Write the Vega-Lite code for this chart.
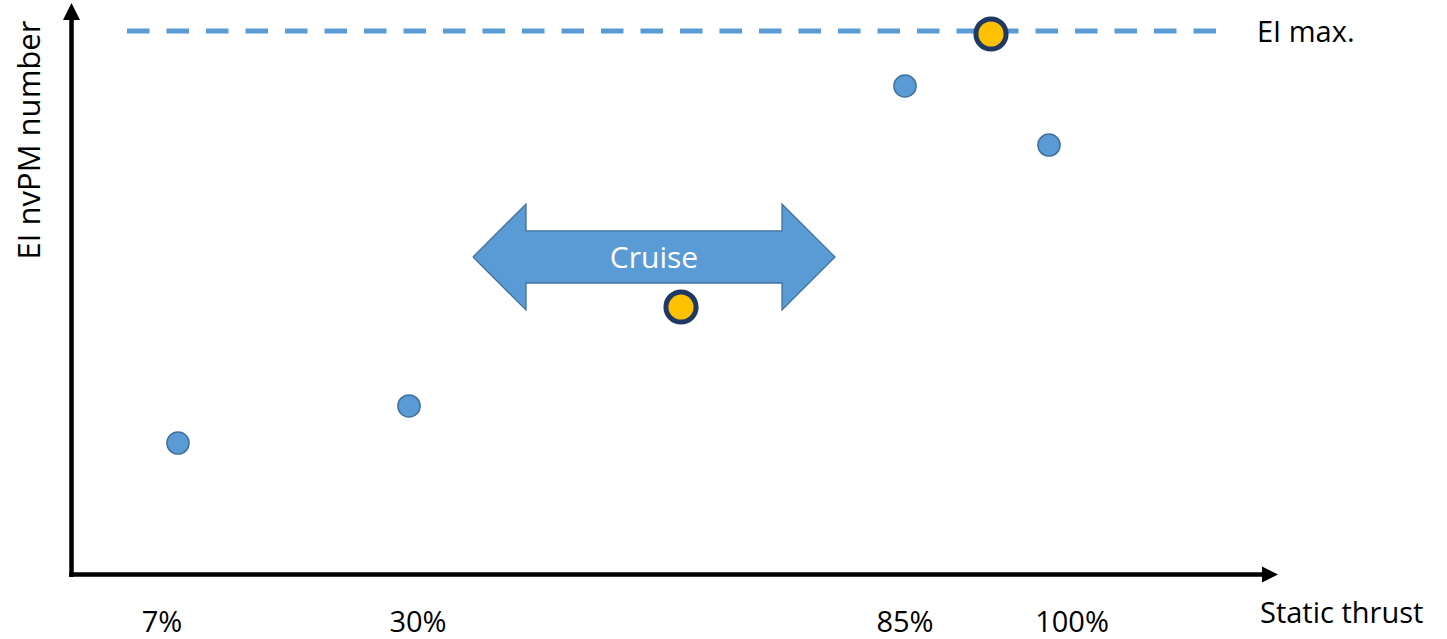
{
  "$schema": "https://vega.github.io/schema/vega-lite/v6.json",
  "width": 1447,
  "height": 639,
  "padding": 0,
  "autosize": {"type": "none"},
  "background": "white",
  "config": {"view": {"stroke": null}},
  "datasets": {
    "emax": [{"x": 127, "x2": 1218, "y": 100}],
    "axes": [
      {"name": "y", "x": 71.5, "x2": 71.5, "y": -0.37, "y2": 102.2},
      {"name": "x", "x": 69.3, "x2": 1263, "y": 0.09, "y2": 0.09}
    ],
    "yhead": [{"x": 71.5, "y": 103.58}],
    "xhead": [{"x": 1270, "y": 0.09}],
    "shaft": [{"x": 525.5, "x2": 782.5, "y": 63.24, "y2": 53.68}],
    "leftHead": [
      {"x": 473, "y": 58.46, "y2": 58.46},
      {"x": 526, "y": 68.2, "y2": 48.71}
    ],
    "rightHead": [
      {"x": 782, "y": 68.2, "y2": 48.71},
      {"x": 835, "y": 58.46, "y2": 58.46}
    ],
    "outline": [
      {"o": 1, "x": 473, "y": 58.46},
      {"o": 2, "x": 526, "y": 68.2},
      {"o": 3, "x": 526, "y": 63.24},
      {"o": 4, "x": 782, "y": 63.24},
      {"o": 5, "x": 782, "y": 68.2},
      {"o": 6, "x": 835, "y": 58.46},
      {"o": 7, "x": 782, "y": 48.71},
      {"o": 8, "x": 782, "y": 53.68},
      {"o": 9, "x": 526, "y": 53.68},
      {"o": 10, "x": 526, "y": 48.71},
      {"o": 11, "x": 473, "y": 58.46}
    ],
    "cruiseLabel": [{"x": 654, "y": 56.43, "label": "Cruise"}],
    "measured": [
      {"thrust": "7%", "x": 178, "ei": 24.26},
      {"thrust": "30%", "x": 409, "ei": 31.07},
      {"thrust": "85%", "x": 905, "ei": 89.89},
      {"thrust": "100%", "x": 1049, "ei": 79.04}
    ],
    "highlight": [
      {"what": "cruise", "x": 681, "ei": 49.26},
      {"what": "max", "x": 991, "ei": 99.45}
    ],
    "ticks": [
      {"x": 162, "y": -11.58, "label": "7%"},
      {"x": 418, "y": -11.58, "label": "30%"},
      {"x": 905, "y": -11.58, "label": "85%"},
      {"x": 1072, "y": -11.58, "label": "100%"}
    ],
    "leftLabels": [
      {"x": 1260, "y": -8.82, "label": "Static thrust"},
      {"x": 1257, "y": 97.98, "label": "EI max."}
    ],
    "ytitle": [{"x": 40, "y": 79.96, "label": "EI nvPM number"}]
  },
  "layer": [
    {
      "data": {"name": "emax"},
      "mark": {"type": "rule", "color": "#5b9bd5", "strokeWidth": 5, "strokeDash": [22.5, 17]},
      "encoding": {
        "x": {"field": "x", "type": "quantitative", "scale": {"domain": [0, 1447], "nice": false, "zero": false}, "axis": null},
        "x2": {"field": "x2"},
        "y": {"field": "y", "type": "quantitative", "scale": {"domain": [-11.7647, 105.6985], "nice": false, "zero": false}, "axis": null}
      }
    },
    {
      "data": {"name": "axes"},
      "mark": {"type": "rule", "color": "black", "strokeWidth": 4.5},
      "encoding": {
        "x": {"field": "x", "type": "quantitative", "axis": null},
        "x2": {"field": "x2"},
        "y": {"field": "y", "type": "quantitative", "axis": null},
        "y2": {"field": "y2"}
      }
    },
    {
      "data": {"name": "yhead"},
      "mark": {"type": "point", "shape": "M0,-1L1,1L-1,1Z", "filled": true, "color": "black", "opacity": 1, "size": 289},
      "encoding": {
        "x": {"field": "x", "type": "quantitative", "axis": null},
        "y": {"field": "y", "type": "quantitative", "axis": null}
      }
    },
    {
      "data": {"name": "xhead"},
      "mark": {"type": "point", "shape": "M-1,-1L1,0L-1,1Z", "filled": true, "color": "black", "opacity": 1, "size": 256},
      "encoding": {
        "x": {"field": "x", "type": "quantitative", "axis": null},
        "y": {"field": "y", "type": "quantitative", "axis": null}
      }
    },
    {
      "data": {"name": "shaft"},
      "mark": {"type": "rect", "fill": "#5b9bd5", "opacity": 1},
      "encoding": {
        "x": {"field": "x", "type": "quantitative", "axis": null},
        "x2": {"field": "x2"},
        "y": {"field": "y", "type": "quantitative", "axis": null},
        "y2": {"field": "y2"}
      }
    },
    {
      "data": {"name": "leftHead"},
      "mark": {"type": "area", "fill": "#5b9bd5", "opacity": 1, "fillOpacity": 1, "interpolate": "linear"},
      "encoding": {
        "x": {"field": "x", "type": "quantitative", "axis": null},
        "y": {"field": "y", "type": "quantitative", "axis": null, "stack": null},
        "y2": {"field": "y2"}
      }
    },
    {
      "data": {"name": "rightHead"},
      "mark": {"type": "area", "fill": "#5b9bd5", "opacity": 1, "fillOpacity": 1, "interpolate": "linear"},
      "encoding": {
        "x": {"field": "x", "type": "quantitative", "axis": null},
        "y": {"field": "y", "type": "quantitative", "axis": null, "stack": null},
        "y2": {"field": "y2"}
      }
    },
    {
      "data": {"name": "outline"},
      "mark": {"type": "line", "color": "#41719c", "strokeWidth": 1.3, "interpolate": "linear"},
      "encoding": {
        "x": {"field": "x", "type": "quantitative", "axis": null},
        "y": {"field": "y", "type": "quantitative", "axis": null},
        "order": {"field": "o", "type": "quantitative"}
      }
    },
    {
      "data": {"name": "cruiseLabel"},
      "mark": {"type": "text", "font": "Open Sans", "fontSize": 30, "color": "white", "align": "center", "baseline": "alphabetic"},
      "encoding": {
        "x": {"field": "x", "type": "quantitative", "axis": null},
        "y": {"field": "y", "type": "quantitative", "axis": null},
        "text": {"field": "label"}
      }
    },
    {
      "data": {"name": "measured"},
      "mark": {"type": "point", "shape": "circle", "filled": true, "fill": "#5b9bd5", "stroke": "#41719c", "strokeWidth": 1.5, "opacity": 1, "fillOpacity": 1, "size": 491},
      "encoding": {
        "x": {"field": "x", "type": "quantitative", "axis": null},
        "y": {"field": "ei", "type": "quantitative", "axis": null}
      }
    },
    {
      "data": {"name": "highlight"},
      "mark": {"type": "point", "shape": "circle", "filled": true, "fill": "#ffc000", "stroke": "#1f3864", "strokeWidth": 5, "opacity": 1, "fillOpacity": 1, "size": 908},
      "encoding": {
        "x": {"field": "x", "type": "quantitative", "axis": null},
        "y": {"field": "ei", "type": "quantitative", "axis": null}
      }
    },
    {
      "data": {"name": "ticks"},
      "mark": {"type": "text", "font": "Open Sans", "fontSize": 29, "color": "black", "align": "center", "baseline": "bottom"},
      "encoding": {
        "x": {"field": "x", "type": "quantitative", "axis": null},
        "y": {"field": "y", "type": "quantitative", "axis": null},
        "text": {"field": "label"}
      }
    },
    {
      "data": {"name": "leftLabels"},
      "mark": {"type": "text", "font": "Open Sans", "fontSize": 29, "color": "black", "align": "left", "baseline": "alphabetic"},
      "encoding": {
        "x": {"field": "x", "type": "quantitative", "axis": null},
        "y": {"field": "y", "type": "quantitative", "axis": null},
        "text": {"field": "label"}
      }
    },
    {
      "data": {"name": "ytitle"},
      "mark": {"type": "text", "font": "Open Sans", "fontSize": 31, "color": "black", "align": "center", "baseline": "alphabetic", "angle": 270},
      "encoding": {
        "x": {"field": "x", "type": "quantitative", "axis": null},
        "y": {"field": "y", "type": "quantitative", "axis": null},
        "text": {"field": "label"}
      }
    }
  ]
}
